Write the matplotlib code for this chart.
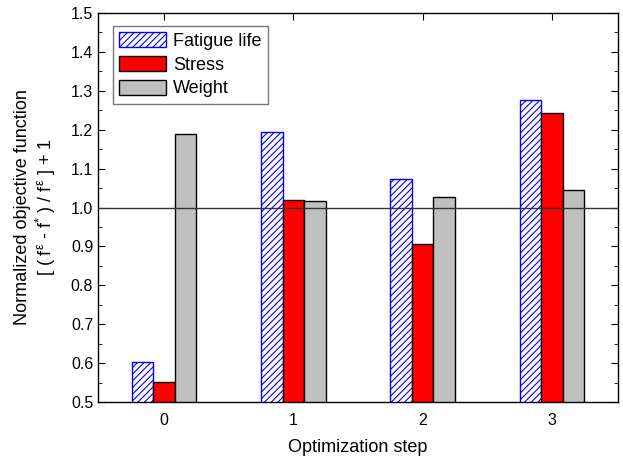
import numpy as np
import matplotlib
matplotlib.use('Agg')
import matplotlib.pyplot as plt
from matplotlib.ticker import MultipleLocator

plt.rcParams['font.family'] = ['Liberation Sans', 'DejaVu Sans']
plt.rcParams['mathtext.fontset'] = 'custom'
plt.rcParams['mathtext.rm'] = 'Liberation Sans'
plt.rcParams['mathtext.it'] = 'Liberation Sans'
plt.rcParams['hatch.color'] = 'blue'
plt.rcParams['hatch.linewidth'] = 0.8

steps = [0, 1, 2, 3]
fatigue = [0.603, 1.195, 1.072, 1.277]
stress = [0.551, 1.020, 0.907, 1.242]
weight = [1.188, 1.017, 1.026, 1.045]

fig = plt.figure(figsize=(6.23, 4.59), dpi=100)
ax = fig.add_axes([98 / 623, 1 - 402 / 459, 520 / 623, 389 / 459])

x = np.array(steps)
w = 0.167
ax.bar(x - w, fatigue, w, color='white', edgecolor='blue', hatch='/////',
       linewidth=1.0, label='Fatigue life', zorder=2)
ax.bar(x, stress, w, color='red', edgecolor='black', linewidth=1.0, label='Stress', zorder=2)
ax.bar(x + w, weight, w, color='#c0c0c0', edgecolor='black', linewidth=1.0, label='Weight', zorder=2)
ax.axhline(1.0, color='#333333', linewidth=1.0, zorder=3)

ax.set_xlim(-0.51, 3.51)
ax.set_ylim(0.5, 1.5)
ax.set_xticks(steps)
ax.yaxis.set_major_locator(MultipleLocator(0.1))
ax.yaxis.set_minor_locator(MultipleLocator(0.05))
ax.yaxis.set_major_formatter(matplotlib.ticker.FormatStrFormatter('%.1f'))
ax.tick_params(which='both', direction='in', top=True, right=True, labelsize=11.5)
ax.tick_params(which='major', length=5)
ax.tick_params(which='minor', length=3)
ax.tick_params(axis='x', pad=8)
for s in ax.spines.values():
    s.set_linewidth(1.0)

ax.set_xlabel('Optimization step', fontsize=13, labelpad=8)
ax.set_ylabel('Normalized objective function\n'
              r'[ ( f$^{\varepsilon}$ - f$^{*}$ ) / f$^{\varepsilon}$ ] + 1',
              fontsize=13, labelpad=9, linespacing=1.15)

leg = ax.legend(loc='upper left', bbox_to_anchor=(0.028, 0.967), fontsize=13,
                fancybox=False, edgecolor='#555555', handlelength=2.6, handleheight=0.9,
                borderpad=0.35, labelspacing=0.33, handletextpad=0.4, borderaxespad=0)
leg.get_frame().set_linewidth(1.0)

fig.savefig('out.png', dpi=100)
